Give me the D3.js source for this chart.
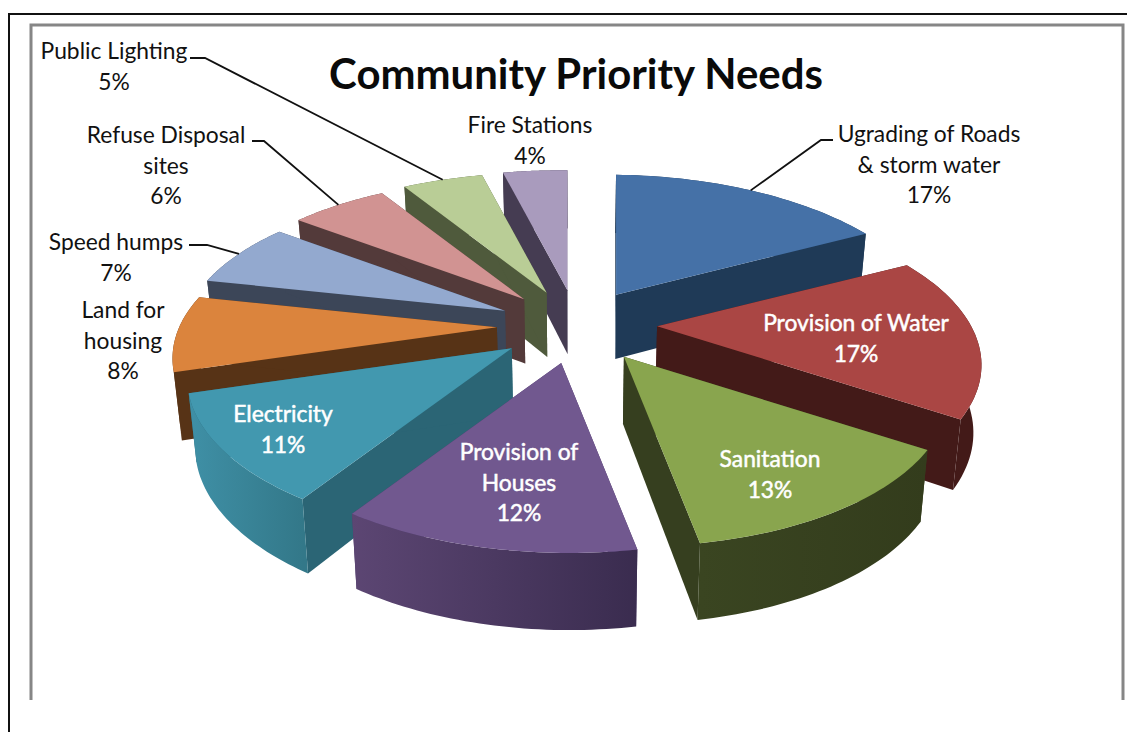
<!DOCTYPE html>
<html>
<head>
<meta charset="utf-8">
<script src="https://cdn.jsdelivr.net/npm/d3@7/dist/d3.min.js"></script>
<style>
  html, body { margin: 0; padding: 0; background: #fff; }
  svg { display: block; }
  text { font-family: Lato, "Open Sans", sans-serif; }
</style>
</head>
<body>
<svg id="chart" width="1127" height="732"></svg>
<script>
// Survey results
const chartTitle = "Community Priority Needs";
const categories = [
  "Ugrading of Roads & storm water", "Provision of Water", "Sanitation",
  "Provision of Houses", "Electricity", "Land for housing", "Speed humps",
  "Refuse Disposal sites", "Public Lighting", "Fire Stations"
];
const shares = [17, 17, 13, 12, 11, 8, 7, 6, 5, 4];

// Slice colours: top face, cut faces, outer wall left and right
const topColors = ["#4571a7", "#aa4644", "#89a54e", "#71588f", "#4298af", "#db843d", "#93a9cf", "#d19392", "#b9cd96", "#a99bbd"];
const cutColors = ["#1f3a57", "#431a18", "#363f1f", "#4e3a6a", "#2b6575", "#573316", "#3c4658", "#533a3a", "#4f5a3c", "#453c52"];
const wallLeft = ["#1f3a57", "#431a18", "#3a4521", "#5c4673", "#3f90a6", "#573316", "#3c4658", "#533a3a", "#4f5a3c", "#453c52"];
const wallRight = ["#1f3a57", "#431a18", "#333c1c", "#3a2c4f", "#337889", "#573316", "#3c4658", "#533a3a", "#4f5a3c", "#453c52"];

// Back slices are painted first so the nearer ones overlap them
const paintOrder = [9, 8, 7, 6, 5, 4, 0, 1, 2, 3];

// Label placement: wrapped lines, centre x, first line baseline, ink colour
const labelLines = [
  ["Ugrading of Roads", "& storm water"], ["Provision of Water"], ["Sanitation"],
  ["Provision of", "Houses"], ["Electricity"], ["Land for", "housing"], ["Speed humps"],
  ["Refuse Disposal", "sites"], ["Public Lighting"], ["Fire Stations"]
];
const labelX = [929, 856, 770, 519, 283, 123, 116, 166, 114, 530];
const labelY = [142, 331, 467, 460, 422, 318, 250, 143, 59, 133];
const labelInk = ["#111", "#fff", "#fff", "#fff", "#fff", "#111", "#111", "#111", "#111", "#111"];
// Leader line start points, for the labels that sit away from their slice
const leaderStart = new Map([
  [0, [[833, 140], [821, 140]]],
  [6, [[189, 245], [207, 245]]],
  [7, [[252, 141], [264, 141]]],
  [8, [[190, 58], [205, 58]]]
]);

const svg = d3.select("#chart");
const defs = svg.append("defs");

// Projection of the tilted disc
const center = [577, 325];
const radiusX = 316, radiusY = 147, perspective = 0.226, skew = 0.012, inset = 0.98;
const explodeX = 80, explodeY = 36.75, explodePerspective = 0.05;
const wallDepth = y => 64 + 0.05 * (y - 290);

function project(a, rx, ry, p) {
  const s = 1 / (1 + p * Math.cos(a));
  return [rx * Math.sin(a) * s, -ry * Math.cos(a) * s];
}

const pie = d3.pie().sort(null).value(d => d);
const arcs = pie(shares);

// Each slice is moved out along its middle angle before its face is projected
const rimPoint = (apex, a) => {
  const p = project(a, radiusX, radiusY, perspective);
  return [apex[0] + p[0], apex[1] + p[1] + skew * p[0]];
};
const slices = arcs.map((d, i) => {
  const mid = (d.startAngle + d.endAngle) / 2;
  const off = project(mid, explodeX, explodeY, explodePerspective);
  const apex = [center[0] + off[0], center[1] + off[1]];
  const steps = d3.range(0, 41).map(k => d.startAngle + (d.endAngle - d.startAngle) * k / 40);
  const rim = steps.map(a => rimPoint(apex, a));
  return { i, apex, rim, leaderEnd: rimPoint(apex, mid) };
});

const below = p => [center[0] + (p[0] - center[0]) * inset, p[1] + wallDepth(p[1])];
const outline = d3.line();
const closed = pts => outline(pts) + "Z";

// Pale plot frame and the dark page border
svg.append("path")
  .attr("d", "M31 700V25H1123V700")
  .attr("fill", "none").attr("stroke", "#868686").attr("stroke-width", 3);
svg.append("path")
  .attr("d", "M1127 14H9V732")
  .attr("fill", "none").attr("stroke", "#111").attr("stroke-width", 2);

const pieLayer = svg.append("g");
paintOrder.forEach(i => {
  const s = slices[i];
  const first = s.rim[0], last = s.rim[s.rim.length - 1];
  const g = pieLayer.append("g");

  const grad = defs.append("linearGradient")
    .attr("id", "wall" + i).attr("gradientUnits", "userSpaceOnUse")
    .attr("x1", d3.min(s.rim, p => p[0])).attr("x2", d3.max(s.rim, p => p[0]))
    .attr("y1", 0).attr("y2", 0);
  grad.append("stop").attr("offset", 0).attr("stop-color", wallLeft[i]);
  grad.append("stop").attr("offset", 1).attr("stop-color", wallRight[i]);

  [first, last].forEach(edge => {
    g.append("path")
      .attr("d", closed([s.apex, edge, below(edge), below(s.apex)]))
      .attr("fill", cutColors[i]);
  });
  g.append("path")
    .attr("d", closed(s.rim.concat(s.rim.map(below).reverse())))
    .attr("fill", `url(#wall${i})`);
  g.append("path")
    .attr("d", closed([s.apex].concat(s.rim)))
    .attr("fill", topColors[i]);
});

// Leader lines
leaderStart.forEach((pts, i) => {
  svg.append("path")
    .attr("d", outline(pts.concat([slices[i].leaderEnd])))
    .attr("fill", "none").attr("stroke", "#111").attr("stroke-width", 1.8);
});

// Data labels
categories.forEach((name, i) => {
  const lines = labelLines[i].concat([shares[i] + "%"]);
  const light = labelInk[i] === "#fff";
  const t = svg.append("text")
    .attr("text-anchor", "middle")
    .attr("font-size", 22.8)
    .attr("fill", labelInk[i])
    .attr("stroke", light ? "#fff" : "none")
    .attr("stroke-width", light ? 0.5 : 0);
  lines.forEach((line, k) => {
    t.append("tspan")
      .attr("x", labelX[i])
      .attr("y", labelY[i] + k * 30.5)
      .text(line);
  });
});

svg.append("text")
  .attr("x", 576).attr("y", 89)
  .attr("text-anchor", "middle")
  .attr("font-size", 41.9).attr("font-weight", 700)
  .attr("fill", "#0a0a0a")
  .text(chartTitle);
</script>
</body>
</html>
